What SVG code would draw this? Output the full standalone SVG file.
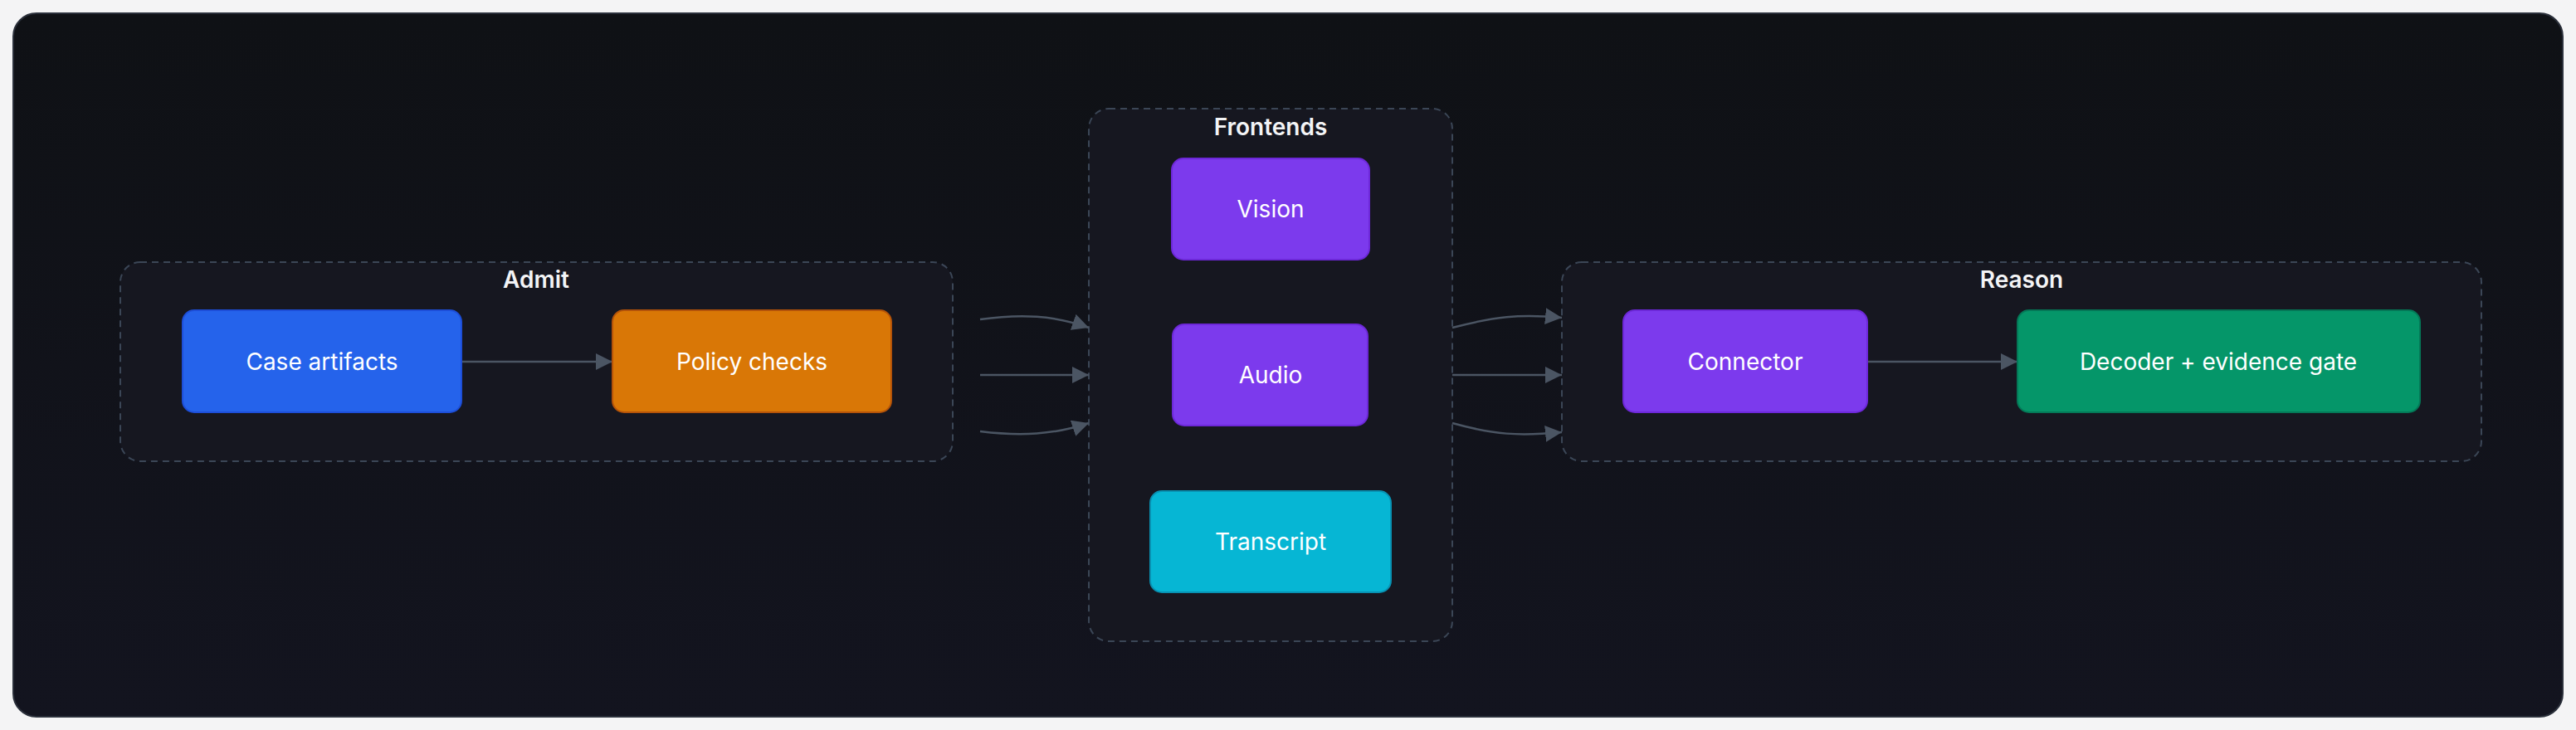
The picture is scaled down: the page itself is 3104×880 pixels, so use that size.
<svg xmlns="http://www.w3.org/2000/svg" width="3104" height="880" viewBox="0 0 3104 880">
<defs>
<style>
.grp{fill:#161720;stroke:#3b4656;stroke-width:2;stroke-dasharray:8 6}
.gt{font-family:Inter,"Liberation Sans",sans-serif;font-size:28px;font-weight:600;fill:#f3f4f6;text-anchor:middle}
.nt{font-family:Inter,"Liberation Sans",sans-serif;font-size:28px;fill:#ffffff;text-anchor:middle;dominant-baseline:central}
.e{fill:none;stroke:#4b5563;stroke-width:2.5}
</style>
<marker id="ar" viewBox="0 0 10 10" refX="10" refY="5" markerWidth="8" markerHeight="8" markerUnits="userSpaceOnUse" orient="auto"><path d="M0,0L10,5L0,10z" fill="#4b5563"/></marker>
<marker id="a" viewBox="0 0 10 10" refX="10" refY="5" markerWidth="20" markerHeight="20" markerUnits="userSpaceOnUse" orient="auto"><path d="M0,0L10,5L0,10z" fill="#4b5563"/></marker>
<linearGradient id="bg" x1="0" y1="0" x2="0" y2="1"><stop offset="0" stop-color="#0f1115"/><stop offset="1" stop-color="#13141f"/></linearGradient>
</defs>
<rect width="3104" height="880" fill="#f4f4f5"/>
<rect x="16" y="16" width="3072" height="848" rx="28" fill="url(#bg)" stroke="#2a2f3a" stroke-width="2"/>
<g id="admit"><rect class="grp" x="145" y="316" width="1003" height="240" rx="24"/><text class="gt" x="646" y="347">Admit</text></g>
<g id="frontends"><rect class="grp" x="1312" y="131" width="438" height="642" rx="24"/><text class="gt" x="1531" y="163">Frontends</text></g>
<g id="reason"><rect class="grp" x="1882" y="316" width="1108" height="240" rx="24"/><text class="gt" x="2436" y="347">Reason</text></g>
<g id="connectors">
<path class="e" d="M556,436H738" marker-end="url(#a)"/>
<path class="e" d="M1181,385C1230,378 1270,380 1312,395" marker-end="url(#a)"/>
<path class="e" d="M1181,452H1312" marker-end="url(#a)"/>
<path class="e" d="M1181,520C1230,526 1270,524 1312,510" marker-end="url(#a)"/>
<path class="e" d="M1750,395C1800,382 1830,378 1882,383" marker-end="url(#a)"/>
<path class="e" d="M1750,452H1882" marker-end="url(#a)"/>
<path class="e" d="M1750,510C1800,524 1830,526 1882,521" marker-end="url(#a)"/>
<path class="e" d="M2250,436H2431" marker-end="url(#a)"/>
</g>
<g id="case-artifacts"><rect x="220" y="374" width="336" height="123" rx="14" fill="#2563eb" stroke="#1d4ed8" stroke-width="2"/><text class="nt" x="388" y="436">Case artifacts</text></g>
<g id="policy-checks"><rect x="738" y="374" width="336" height="123" rx="14" fill="#d97706" stroke="#b45309" stroke-width="2"/><text class="nt" x="906" y="436">Policy checks</text></g>
<g id="vision"><rect x="1412" y="191" width="238" height="122" rx="14" fill="#7c3aed" stroke="#6d28d9" stroke-width="2"/><text class="nt" x="1531" y="252">Vision</text></g>
<g id="audio"><rect x="1413" y="391" width="235" height="122" rx="14" fill="#7c3aed" stroke="#6d28d9" stroke-width="2"/><text class="nt" x="1531" y="452">Audio</text></g>
<g id="transcript"><rect x="1386" y="592" width="290" height="122" rx="14" fill="#06b6d4" stroke="#0891b2" stroke-width="2"/><text class="nt" x="1531" y="653">Transcript</text></g>
<g id="connector"><rect x="1956" y="374" width="294" height="123" rx="14" fill="#7c3aed" stroke="#6d28d9" stroke-width="2"/><text class="nt" x="2103" y="436">Connector</text></g>
<g id="decoder"><rect x="2431" y="374" width="485" height="123" rx="14" fill="#059669" stroke="#047857" stroke-width="2"/><text class="nt" x="2673" y="436">Decoder + evidence gate</text></g>
</svg>
